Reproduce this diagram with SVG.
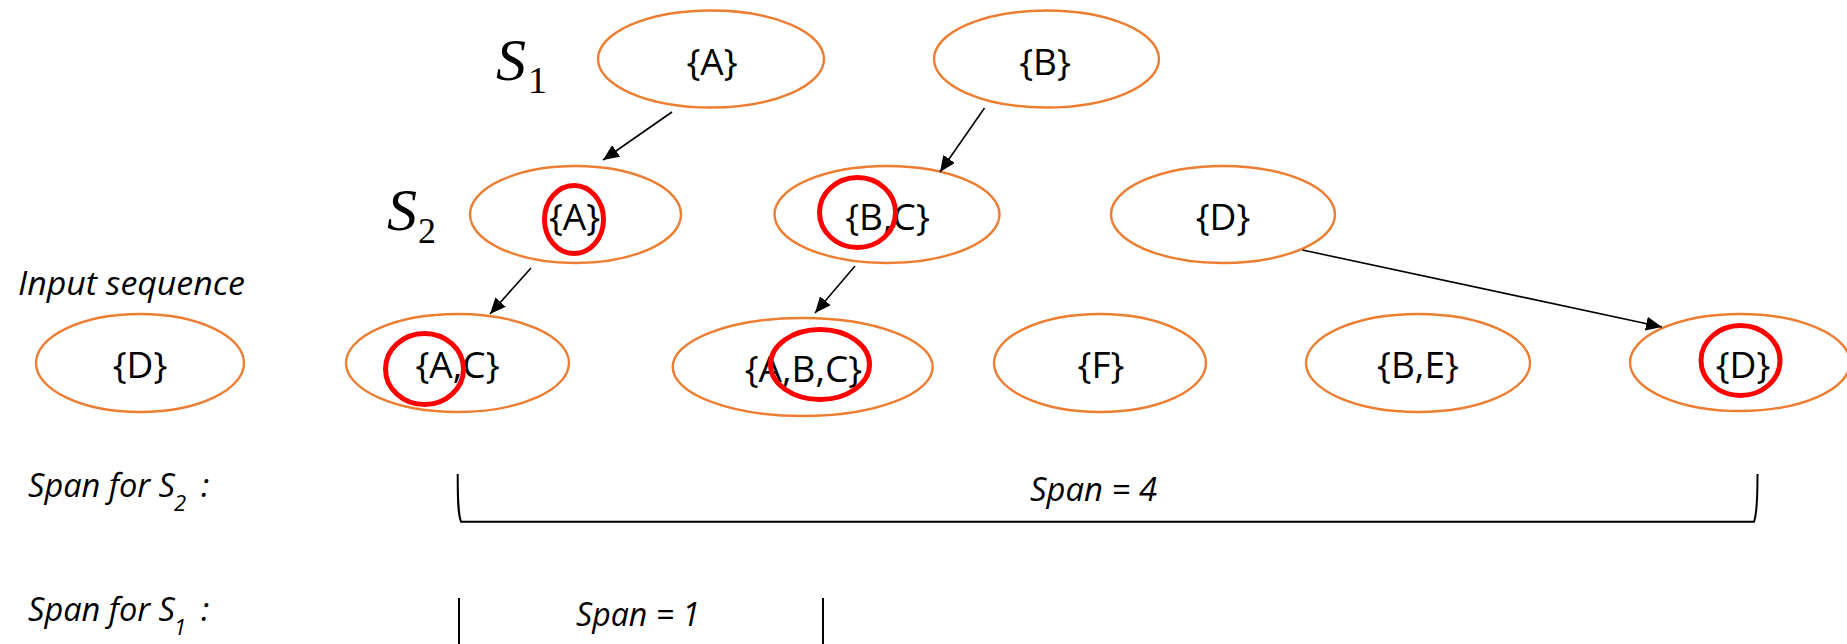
<svg xmlns="http://www.w3.org/2000/svg" width="1847" height="644" viewBox="0 0 1847 644">
<style>
.node ellipse.o{fill:none;stroke:#ED7D31;stroke-width:2.4}
.node ellipse.r{fill:none;stroke:#FF0000;stroke-width:5}
.nt{font-family:"Open Sans","Liberation Sans",sans-serif;font-size:37px;fill:#000;text-anchor:middle}
.it{font-family:"Open Sans","Liberation Sans",sans-serif;font-style:italic;fill:#000}
.sv{font-family:"Liberation Serif","Times New Roman",serif;fill:#000}
.conn line{stroke:#000;stroke-width:1.6;fill:none}
.br{fill:none;stroke:#000;stroke-width:2}
</style>
<defs>
<marker id="ah" markerUnits="userSpaceOnUse" markerWidth="18" markerHeight="14" refX="16" refY="7" orient="auto">
<path d="M0,0 L16,7 L0,14 Z" fill="#000"/>
</marker>
</defs>
<rect width="1847" height="644" fill="#fff"/>

<g id="label-S1"><text class="sv" x="496" y="80" font-size="60" font-style="italic">S</text><text class="sv" x="528" y="93" font-size="38">1</text></g>
<g id="label-S2"><text class="sv" x="387" y="230" font-size="60" font-style="italic">S</text><text class="sv" x="418" y="243" font-size="36">2</text></g>
<g id="label-input"><text class="it" x="18" y="295" font-size="33" textLength="227" lengthAdjust="spacingAndGlyphs">Input sequence</text></g>

<g id="s1-A" class="node"><ellipse class="o" cx="711" cy="59" rx="113" ry="48.5"/><text class="nt" x="712" y="75">{A}</text></g>
<g id="s1-B" class="node"><ellipse class="o" cx="1046.5" cy="59" rx="112.5" ry="48.5"/><text class="nt" x="1045" y="75">{B}</text></g>

<g id="s2-A" class="node"><ellipse class="o" cx="575.5" cy="214.5" rx="105.5" ry="48.5"/><text class="nt" x="574.5" y="230">{A}</text><ellipse class="r" cx="574" cy="219.5" rx="29.5" ry="34"/></g>
<g id="s2-BC" class="node"><ellipse class="o" cx="887" cy="214.5" rx="112.5" ry="48.5"/><text class="nt" x="887.5" y="230">{B,C}</text><ellipse class="r" cx="857.5" cy="212.5" rx="38" ry="35"/></g>
<g id="s2-D" class="node"><ellipse class="o" cx="1223" cy="214.5" rx="112" ry="48.5"/><text class="nt" x="1223" y="230">{D}</text></g>

<g id="in-D1" class="node"><ellipse class="o" cx="140" cy="363" rx="104" ry="49"/><text class="nt" x="140" y="378">{D}</text></g>
<g id="in-AC" class="node"><ellipse class="o" cx="457.5" cy="363" rx="111.5" ry="49"/><text class="nt" x="457.5" y="378">{A,C}</text><ellipse class="r" cx="424.5" cy="369" rx="39" ry="35.5"/></g>
<g id="in-ABC" class="node"><ellipse class="o" cx="802.7" cy="367" rx="130" ry="49"/><text class="nt" x="803.5" y="382">{A,B,C}</text><ellipse class="r" cx="820" cy="364.5" rx="49.5" ry="35"/></g>
<g id="in-F" class="node"><ellipse class="o" cx="1100" cy="363" rx="106" ry="49"/><text class="nt" x="1101" y="378">{F}</text></g>
<g id="in-BE" class="node"><ellipse class="o" cx="1418" cy="363" rx="112" ry="49"/><text class="nt" x="1418" y="378">{B,E}</text></g>
<g id="in-D2" class="node"><ellipse class="o" cx="1740" cy="362.5" rx="110" ry="48.5"/><text class="nt" x="1743" y="378">{D}</text><ellipse class="r" cx="1740.5" cy="360.5" rx="39.5" ry="35"/></g>

<g id="connectors" class="conn">
<line x1="672" y1="112" x2="603" y2="160" marker-end="url(#ah)"/>
<line x1="984.5" y1="108" x2="940" y2="172" marker-end="url(#ah)"/>
<line x1="531" y1="268" x2="490" y2="314" marker-end="url(#ah)"/>
<line x1="855" y1="266" x2="815" y2="313" marker-end="url(#ah)"/>
<line x1="1302.5" y1="250" x2="1662" y2="327" marker-end="url(#ah)"/>
</g>

<g id="span-S2">
<text class="it" x="28" y="497" font-size="33" textLength="147" lengthAdjust="spacingAndGlyphs">Span for S</text><text class="it" x="174" y="511" font-size="22">2</text><text class="it" x="201" y="497" font-size="33">:</text>
<path class="br" d="M457.7 474 C457.7 500 458 514 461 521.7 L1754 521.7 C1757 514 1757.5 500 1757.5 474"/>
<text class="it" x="1030" y="501" font-size="33" textLength="127" lengthAdjust="spacingAndGlyphs">Span = 4</text>
</g>
<g id="span-S1">
<text class="it" x="28" y="621" font-size="33" textLength="147" lengthAdjust="spacingAndGlyphs">Span for S</text><text class="it" x="174" y="635" font-size="22">1</text><text class="it" x="201" y="621" font-size="33">:</text>
<path class="br" d="M459 598 L459 650 M823 598 L823 650"/>
<text class="it" x="576" y="626" font-size="33" textLength="124" lengthAdjust="spacingAndGlyphs">Span = 1</text>
</g>
</svg>
